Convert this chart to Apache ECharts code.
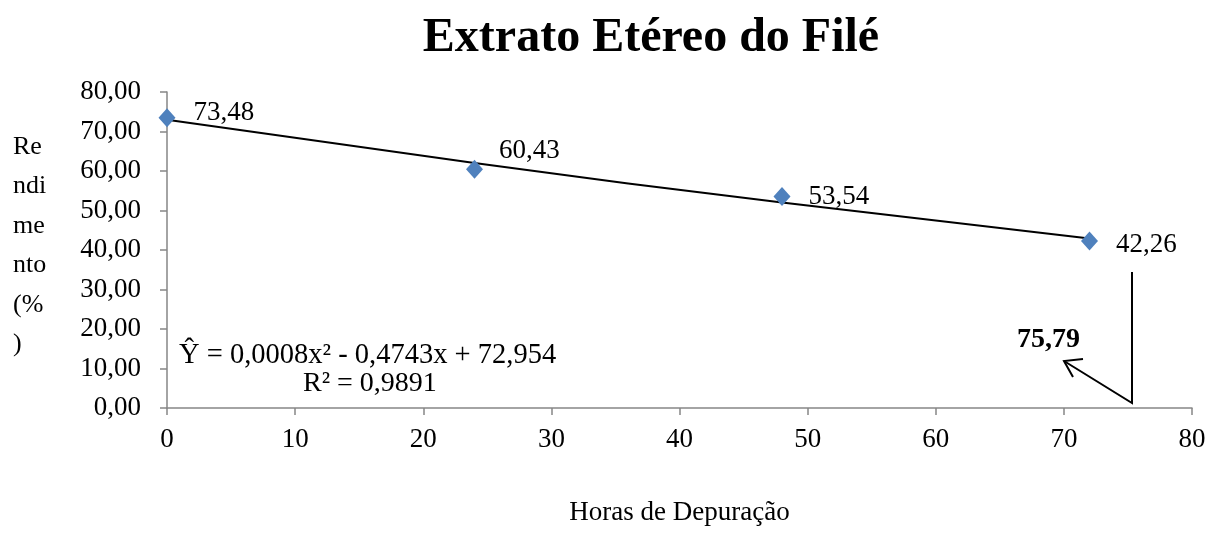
<!DOCTYPE html>
<html>
<head>
<meta charset="utf-8">
<script src="https://cdn.jsdelivr.net/npm/echarts@6/dist/echarts.min.js"></script>
<style>
  html, body { margin: 0; padding: 0; background: #fff; }
  #chart { width: 1217px; height: 549px; }
</style>
</head>
<body>
<div id="chart"></div>
<script>
// dados
var horas = [0, 24, 48, 72];
var rendimento = [73.48, 60.43, 53.54, 42.26];
// linha de tendência
var tendX = [0, 24, 48, 72];
var tendY = [72.95, 62.0, 52.0, 42.9];

var chart = echarts.init(document.getElementById('chart'));
var serif = '"Liberation Serif", "Times New Roman", serif';

function fmt(v) {
    return v.toFixed(2).replace('.', ',');
}

var pontos = horas.map(function (h, i) {
    var item = { value: [h, rendimento[i]] };
    // ajustes finos dos rótulos
    if (i === 0) item.label = { offset: [0, -5] };
    if (i === 1) item.label = { offset: [-2, -18] };
    if (i === 3) item.label = { offset: [0, 4] };
    return item;
});

var option = {
    animation: false,
    title: {
        text: 'Extrato Etéreo do Filé',
        left: 646,
        top: 10,
        textAlign: 'center',
        textStyle: { fontFamily: serif, fontSize: 48, fontWeight: 'bold', color: '#000' }
    },
    grid: { left: 167, right: 25, top: 92, bottom: 141 },
    xAxis: {
        type: 'value',
        min: 0, max: 80, interval: 10,
        name: 'Horas de Depuração',
        nameLocation: 'middle',
        nameGap: 91,
        nameTextStyle: { fontFamily: serif, fontSize: 27, color: '#000' },
        axisLine: { lineStyle: { color: '#868686', width: 1.5 } },
        axisTick: { show: true, length: 7, lineStyle: { color: '#868686', width: 1.5 } },
        axisLabel: { fontFamily: serif, fontSize: 27, color: '#000', margin: 18 },
        splitLine: { show: false }
    },
    yAxis: {
        type: 'value',
        min: 0, max: 80, interval: 10,
        axisLine: { show: true, lineStyle: { color: '#868686', width: 1.5 } },
        axisTick: { show: true, length: 7, lineStyle: { color: '#868686', width: 1.5 } },
        axisLabel: { fontFamily: serif, fontSize: 27, color: '#000', margin: 26, formatter: fmt },
        splitLine: { show: false }
    },
    series: [{
        name: 'Tendência',
        type: 'line',
        data: tendX.map(function (x, i) { return [x, tendY[i]]; }),
        smooth: true,
        symbol: 'none',
        lineStyle: { color: '#000', width: 2 },
        z: 2
    }, {
        name: 'Rendimento',
        type: 'scatter',
        data: pontos,
        symbol: 'diamond',
        symbolSize: [17, 19],
        itemStyle: { color: '#4F81BD', opacity: 1 },
        label: {
            show: true,
            position: 'right',
            distance: 18,
            fontFamily: serif,
            fontSize: 27,
            color: '#000',
            opacity: 1,
            formatter: function (p) { return fmt(p.value[1]); }
        },
        z: 3
    }],
    graphic: [{
        type: 'text',
        left: 13, top: 127,
        style: {
            text: 'Re\nndi\nme\nnto\n(%\n)',
            fontFamily: serif, fontSize: 26, lineHeight: 39.5,
            fill: '#000', align: 'center'
        }
    }, {
        type: 'text',
        left: 179, top: 341,
        style: {
            text: 'Ŷ = 0,0008x² - 0,4743x + 72,954',
            fontFamily: serif, fontSize: 28.5, fill: '#000'
        }
    }, {
        type: 'text',
        left: 303, top: 370,
        style: {
            text: 'R² = 0,9891',
            fontFamily: serif, fontSize: 28, fill: '#000'
        }
    }, {
        type: 'text',
        left: 1017, top: 326,
        style: {
            text: '75,79',
            fontFamily: serif, fontSize: 28, fontWeight: 'bold', fill: '#000'
        }
    }, {
        type: 'polyline',
        shape: { points: [[1132, 272], [1132, 403], [1064, 361]] },
        style: { stroke: '#000', lineWidth: 2, fill: null }
    }, {
        type: 'polyline',
        shape: { points: [[1083, 359], [1064, 361], [1073, 377]] },
        style: { stroke: '#000', lineWidth: 2, fill: null }
    }]
};

chart.setOption(option);
</script>
</body>
</html>
